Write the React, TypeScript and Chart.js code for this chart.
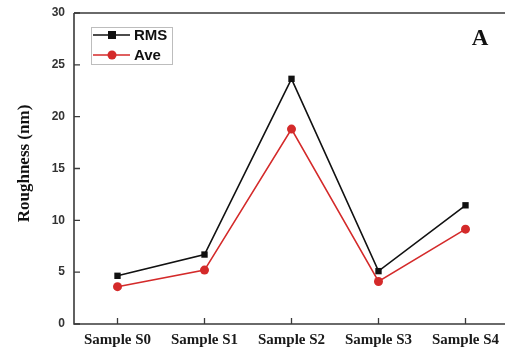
import React, { useEffect, useRef } from "react";
import { Chart, registerables } from "chart.js";

Chart.register(...registerables);

const categories = ["Sample S0", "Sample S1", "Sample S2", "Sample S3", "Sample S4"];
const rmsValues = [4.65, 6.7, 23.65, 5.1, 11.45];
const aveValues = [3.6, 5.2, 18.8, 4.1, 9.15];
const yTicks = [0, 5, 10, 15, 20, 25, 30];
const seriesLabels = ["RMS", "Ave"];
const yTitle = "Roughness (nm)";
const panelLabel = "A";

const AXIS_COLOR = "#3a3a3a";
const RMS_COLOR = "#111111";
const AVE_COLOR = "#d42a2a";

const decorPlugin = {
  id: "decor",
  afterDraw(chart: any) {
    const { ctx, chartArea } = chart;
    const { left, right, top, bottom } = chartArea;
    const xs = chart.scales.x;
    const ys = chart.scales.y;
    ctx.save();
    // axes
    ctx.strokeStyle = AXIS_COLOR;
    ctx.lineWidth = 1.6;
    ctx.beginPath();
    ctx.moveTo(left, top);
    ctx.lineTo(left, bottom);
    ctx.lineTo(right, bottom);
    ctx.moveTo(left, top);
    ctx.lineTo(right, top);
    ctx.stroke();
    // inward ticks
    ctx.lineWidth = 1.3;
    ctx.beginPath();
    yTicks.forEach((v) => {
      const y = ys.getPixelForValue(v);
      ctx.moveTo(left, y);
      ctx.lineTo(left + 6, y);
    });
    categories.forEach((_, i) => {
      const x = xs.getPixelForValue(i);
      ctx.moveTo(x, bottom);
      ctx.lineTo(x, bottom - 6);
    });
    ctx.stroke();

    // y title
    ctx.save();
    ctx.translate(25, (top + bottom) / 2 - 5);
    ctx.rotate(-Math.PI / 2);
    ctx.fillStyle = "#111";
    ctx.font = "bold 17px 'Liberation Serif'";
    ctx.textAlign = "center";
    ctx.textBaseline = "middle";
    ctx.fillText(yTitle, 0, 0);
    ctx.restore();

    // panel label
    ctx.fillStyle = "#111";
    ctx.font = "bold 23px 'Liberation Serif'";
    ctx.textAlign = "center";
    ctx.textBaseline = "middle";
    ctx.fillText(panelLabel, 480, 39);

    // legend
    const lx = 91, ly = 27, lw = 81, lh = 37;
    ctx.strokeStyle = "#bdbdbd";
    ctx.lineWidth = 1;
    ctx.strokeRect(lx + 0.5, ly + 0.5, lw, lh);
    const colors = [RMS_COLOR, AVE_COLOR];
    seriesLabels.forEach((lab, i) => {
      const y = 35 + i * 20;
      ctx.strokeStyle = colors[i];
      ctx.lineWidth = 1.5;
      ctx.beginPath();
      ctx.moveTo(93, y);
      ctx.lineTo(130, y);
      ctx.stroke();
      ctx.fillStyle = colors[i];
      if (i === 0) {
        ctx.fillRect(108, y - 4, 8, 8);
      } else {
        ctx.beginPath();
        ctx.arc(112, y, 4.5, 0, Math.PI * 2);
        ctx.fill();
      }
      ctx.fillStyle = "#111";
      ctx.font = "bold 15px 'Liberation Sans'";
      ctx.textAlign = "left";
      ctx.textBaseline = "middle";
      ctx.fillText(lab, 134, y + 1);
    });
    ctx.restore();
  },
};

export default function App() {
  const ref = useRef<HTMLCanvasElement | null>(null);
  useEffect(() => {
    if (!ref.current) return;
    const chart = new Chart(ref.current, {
      type: "line",
      data: {
        datasets: [
          {
            label: seriesLabels[0],
            data: rmsValues.map((v, i) => ({ x: i, y: v })),
            borderColor: RMS_COLOR,
            backgroundColor: RMS_COLOR,
            borderWidth: 1.6,
            pointStyle: "rect",
            pointRadius: 4.5,
            pointBorderWidth: 0,
            tension: 0,
          },
          {
            label: seriesLabels[1],
            data: aveValues.map((v, i) => ({ x: i, y: v })),
            borderColor: AVE_COLOR,
            backgroundColor: AVE_COLOR,
            borderWidth: 1.6,
            pointStyle: "circle",
            pointRadius: 4.5,
            pointBorderWidth: 0,
            tension: 0,
          },
        ],
      },
      options: {
        animation: false,
        responsive: false,
        maintainAspectRatio: false,
        layout: { autoPadding: false, padding: { top: 13, right: 0, left: 0, bottom: 0 } },
        plugins: {
          legend: { display: false },
          tooltip: { enabled: false },
        },
        scales: {
          x: {
            type: "linear",
            min: -0.5,
            max: -0.5 + 431 / 87,
            grid: { display: false, drawTicks: false },
            border: { display: false },
            afterBuildTicks: (axis: any) => {
              axis.ticks = categories.map((_, i) => ({ value: i }));
            },
            afterFit: (scale: any) => {
              scale.height = 27;
              scale.paddingLeft = 0;
              scale.paddingRight = 0;
            },
            ticks: {
              autoSkip: false,
              maxRotation: 0,
              padding: 7,
              color: "#1a1a1a",
              font: { family: "'Liberation Serif'", size: 15, weight: "bold" },
              callback: (v: any) => categories[Math.round(Number(v))] ?? "",
            },
          },
          y: {
            min: 0,
            max: 30,
            grid: { display: false, drawTicks: false },
            border: { display: false },
            afterBuildTicks: (axis: any) => {
              axis.ticks = yTicks.map((v) => ({ value: v }));
            },
            afterFit: (scale: any) => {
              scale.width = 74;
              scale.paddingTop = 0;
              scale.paddingBottom = 0;
            },
            ticks: {
              padding: 9,
              color: "#333",
              font: { family: "'Liberation Sans'", size: 12, weight: "bold" },
            },
          },
        },
      },
      plugins: [decorPlugin],
    } as any);
    return () => chart.destroy();
  }, []);
  return (
    <div style={{ position: "fixed", left: 0, top: 0, width: 505, height: 351, background: "#fff" }}>
      <canvas ref={ref} width={505} height={351} style={{ width: 505, height: 351, display: "block" }} />
    </div>
  );
}
